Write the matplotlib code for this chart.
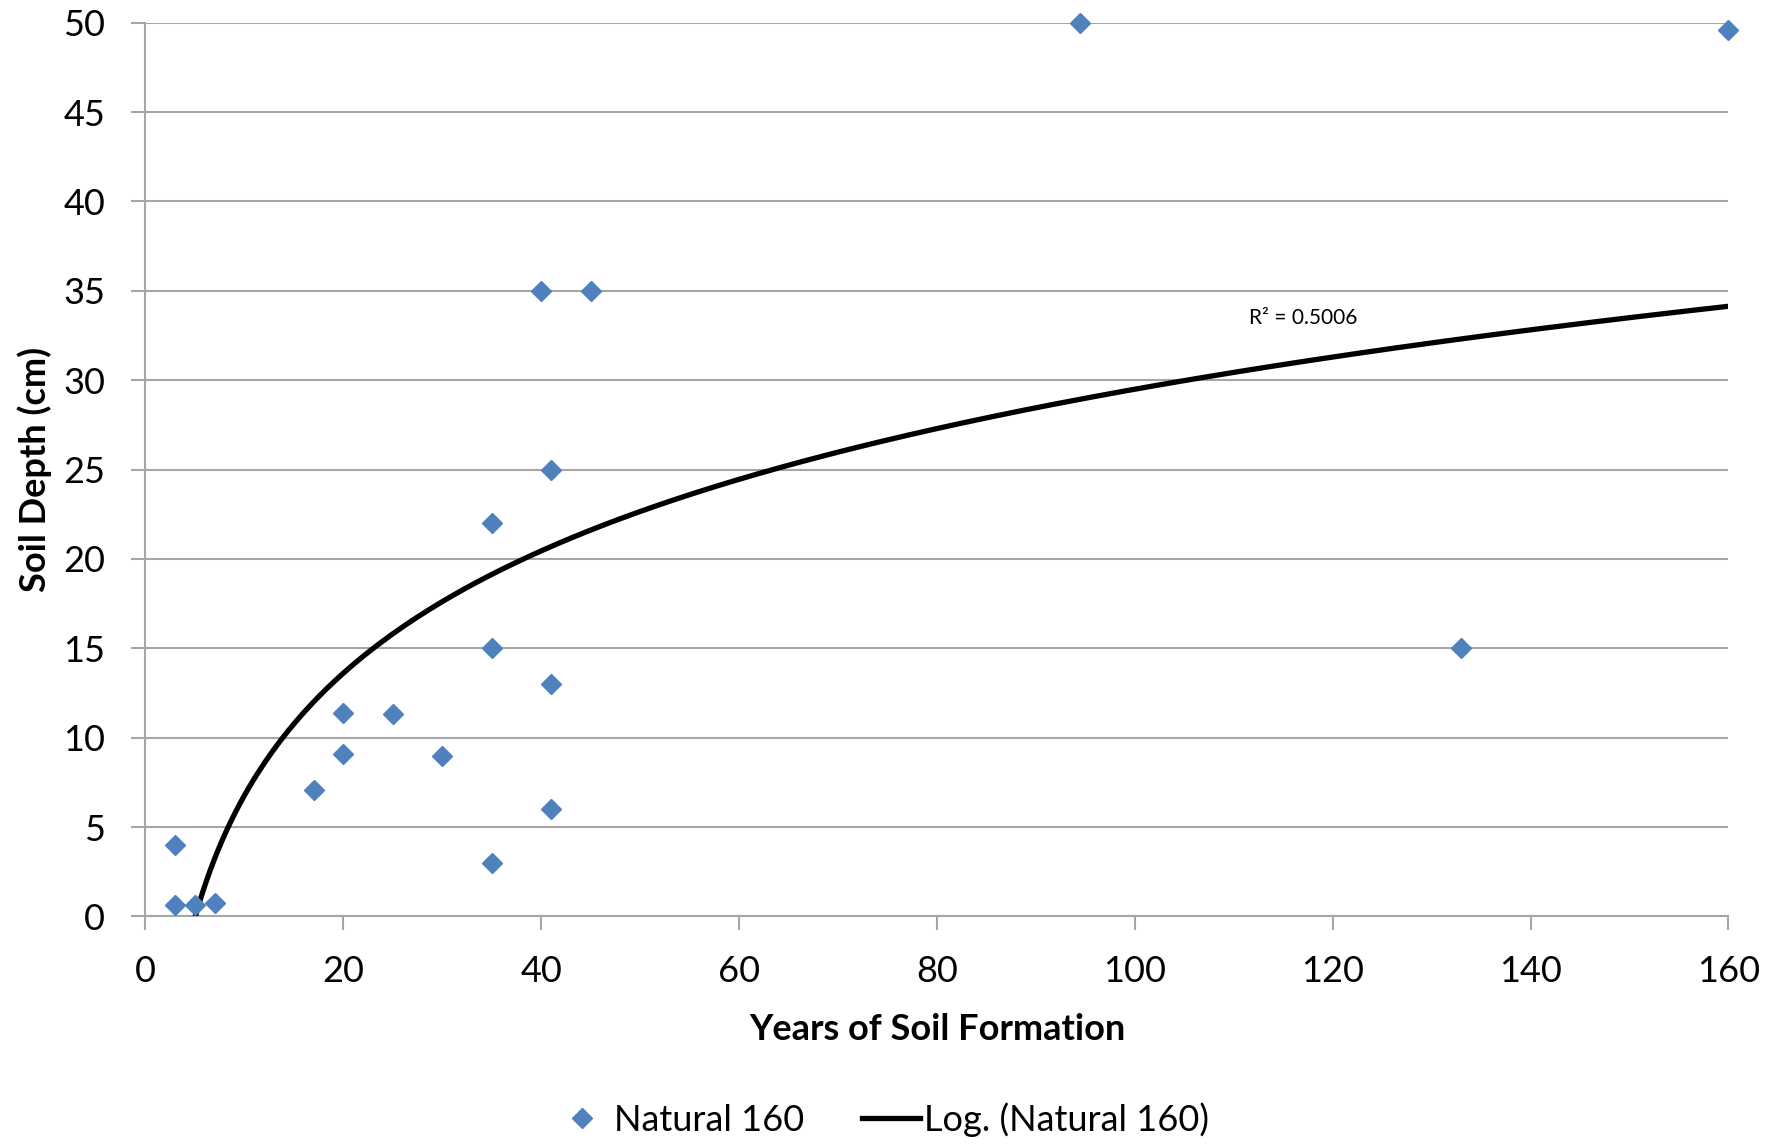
"""
Soil depth vs years of soil formation, with log trendline
"""
import numpy as np
import matplotlib
matplotlib.use('Agg')
import matplotlib.pyplot as plt
from matplotlib.lines import Line2D

plt.rcParams['font.family'] = ['Lato', 'DejaVu Sans']

# Data
years = [3, 3, 5, 7, 17, 20, 20, 25, 30, 35, 35, 35, 40, 41, 41, 41, 45, 94.5, 133, 160]
depth = [4.0, 0.65, 0.65, 0.75, 7.1, 11.4, 9.1, 11.3, 9.0, 22, 15, 3, 35, 25, 13, 6, 35, 50, 15, 49.6]
r2_label = 'R² = 0.5006'

x = np.array(years, dtype=float)
y = np.array(depth, dtype=float)

# Log trendline fitted from the data (like Excel's "Log." trendline)
a, b = np.polyfit(np.log(x), y, 1)
print(f"fit: y = {a:.3f} ln(x) + {b:.3f}")
xs = np.linspace(x.min(), x.max(), 400)
ys = a * np.log(xs) + b

fig = plt.figure(figsize=(17.83, 11.44), dpi=100)
ax = fig.add_axes([0.0816, 0.1989, 0.8878, 0.7813])

grid_c = '#a6a6a6'
ax.set_xlim(0, 160)
ax.set_ylim(0, 50)
ax.set_xticks(range(0, 161, 20))
ax.set_yticks(range(0, 51, 5))
ax.grid(axis='y', color=grid_c, lw=1.5)
ax.set_axisbelow(True)
for s in ['top', 'right']:
    ax.spines[s].set_visible(False)
for s in ['left', 'bottom']:
    ax.spines[s].set_color(grid_c)
    ax.spines[s].set_linewidth(1.5)
ax.tick_params(axis='both', direction='out', length=10, width=1.5, color=grid_c,
               labelsize=26)
ax.tick_params(axis='x', pad=18)
ax.tick_params(axis='y', pad=19)

ax.plot(xs, ys, color='black', lw=3.8, zorder=3, clip_on=True)
ax.plot(x, y, 'D', color='#4F81BD', ms=10.5, mec='#4F81BD', zorder=4, clip_on=False)

ax.text(111.5, 33.5, r2_label, fontsize=15, va='center', ha='left')

ax.set_xlabel('Years of Soil Formation', fontsize=26, fontweight='bold', labelpad=18)
ax.set_ylabel('Soil Depth (cm)', fontsize=26, fontweight='bold', labelpad=8)

handles = [
    Line2D([], [], marker='D', ls='none', color='#4F81BD', ms=10.5),
    Line2D([], [], color='black', lw=3.8),
]
fig.legend(handles, ['Natural 160', 'Log. (Natural 160)'], loc='lower center',
           bbox_to_anchor=(0.494, -0.022), ncol=2, frameon=False, fontsize=26,
           handlelength=1.6, handletextpad=0.1, columnspacing=1.6)

plt.savefig('out.png', dpi=100)
plt.close()
